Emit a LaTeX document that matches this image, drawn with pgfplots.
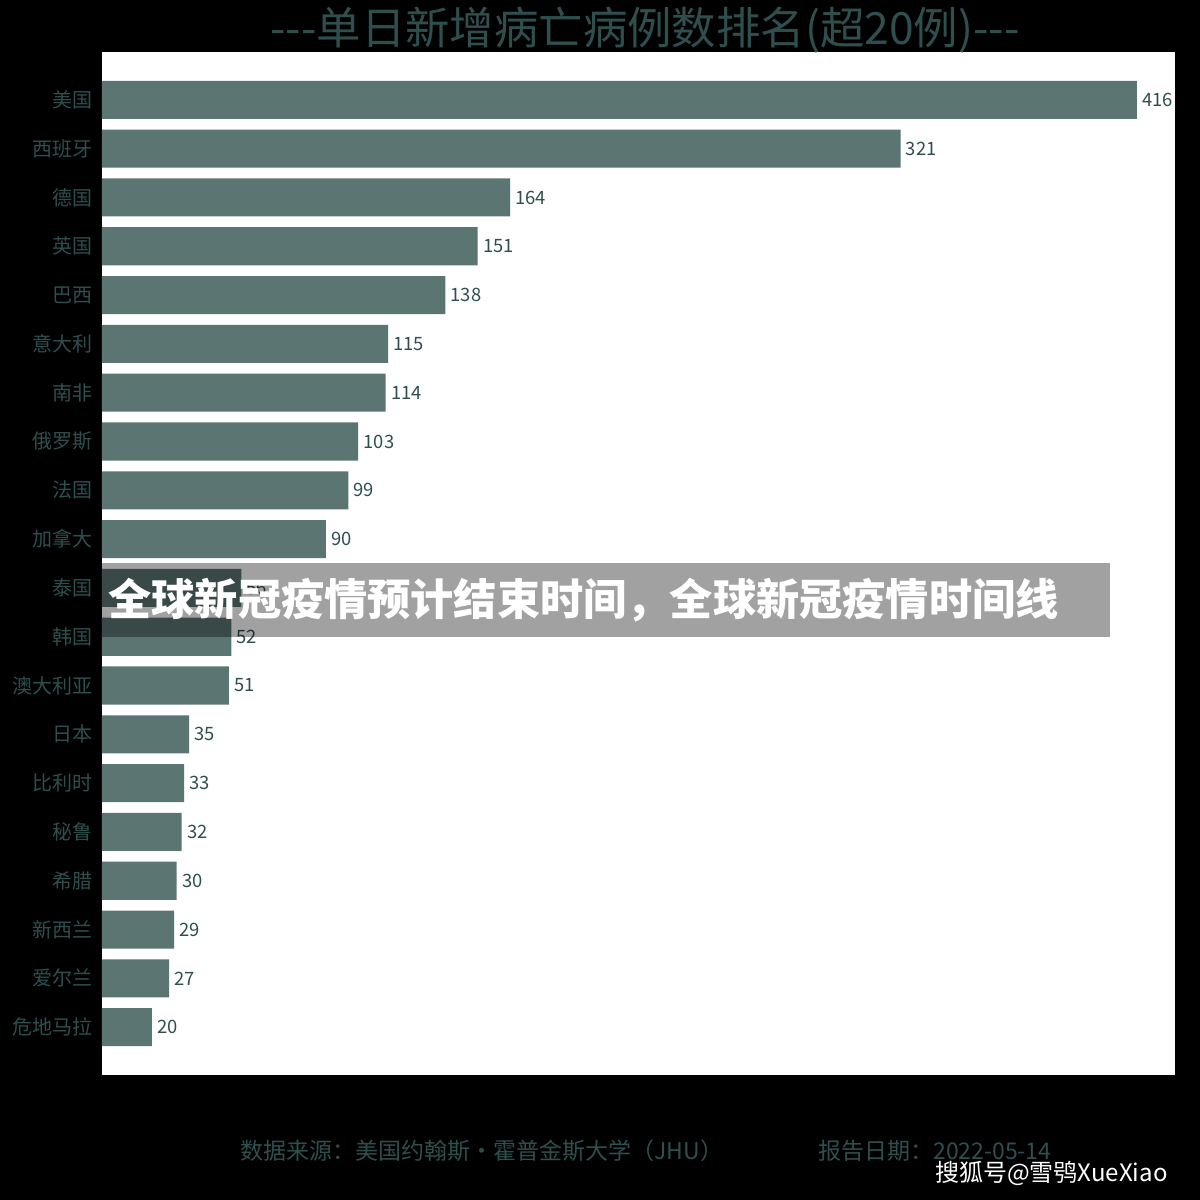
\documentclass[border=0pt]{standalone}
\usepackage{pgfplots}
\pgfplotsset{compat=1.18}
\usepackage{fontspec}
\setmainfont{Noto Sans CJK SC}
\definecolor{barc}{RGB}{91,117,114}
\definecolor{txt}{RGB}{47,79,79}
\begin{document}
\begin{tikzpicture}[x=1pt,y=1pt]
\fill[black] (0,0) rectangle (600,600);
\begin{axis}[at={(51pt,62.5pt)}, anchor=south west, scale only axis,
  width=536.5pt, height=511.5pt,
  xbar, bar width=0.78,
  xmin=0, xmax=431.3, ymin=-0.98, ymax=19.98, y dir=reverse,
  axis background/.style={fill=white},
  axis line style={draw=none},
  xtick=\empty, ytick={0,...,19}, major tick length=0pt,
  yticklabels={美国,西班牙,德国,英国,巴西,意大利,南非,俄罗斯,法国,加拿大,泰国,韩国,澳大利亚,日本,比利时,秘鲁,希腊,新西兰,爱尔兰,危地马拉},
  y tick label style={font=\fontsize{10}{12}\selectfont, text=txt, xshift=-1pt},
  nodes near coords, point meta=x,
  /pgf/number format/assume math mode=true,
  nodes near coords style={font=\fontsize{9.2}{10}\selectfont, text=txt, anchor=west, inner xsep=2.5pt},
  clip=false]
\addplot[fill=barc, draw=none] coordinates {
(416,0) (321,1) (164,2) (151,3) (138,4) (115,5) (114,6) (103,7) (99,8) (90,9)
(56,10) (52,11) (51,12) (35,13) (33,14) (32,15) (30,16) (29,17) (27,18) (20,19)};
\end{axis}
% banner overlay
\fill[black, opacity=0.37] (51,281.5) rectangle (555,318.5);
\node[anchor=west, text=white, font=\fontsize{21.6}{24}\selectfont\bfseries, inner sep=0pt] at (54,300) {全球新冠疫情预计结束时间，全球新冠疫情时间线};
% title
\node[text=txt, font=\fontsize{22.2}{25}\selectfont, inner sep=0pt] at (322.5,585) {{-}{-}{-}单日新增病亡病例数排名(超20例){-}{-}{-}};
% footer
\node[anchor=west, text=txt, font=\fontsize{11.5}{13}\selectfont, inner sep=0pt] at (120,24.5) {数据来源：美国约翰斯·霍普金斯大学（JHU）};
\node[anchor=west, text=txt, font=\fontsize{11.5}{13}\selectfont, inner sep=0pt] at (409,24.5) {报告日期：2022-05-14};
\node[anchor=east, text=white, font=\fontsize{12}{14}\selectfont, inner sep=0pt] at (584,13.5) {搜狐号@雪鸮XueXiao};
\end{tikzpicture}
\end{document}
